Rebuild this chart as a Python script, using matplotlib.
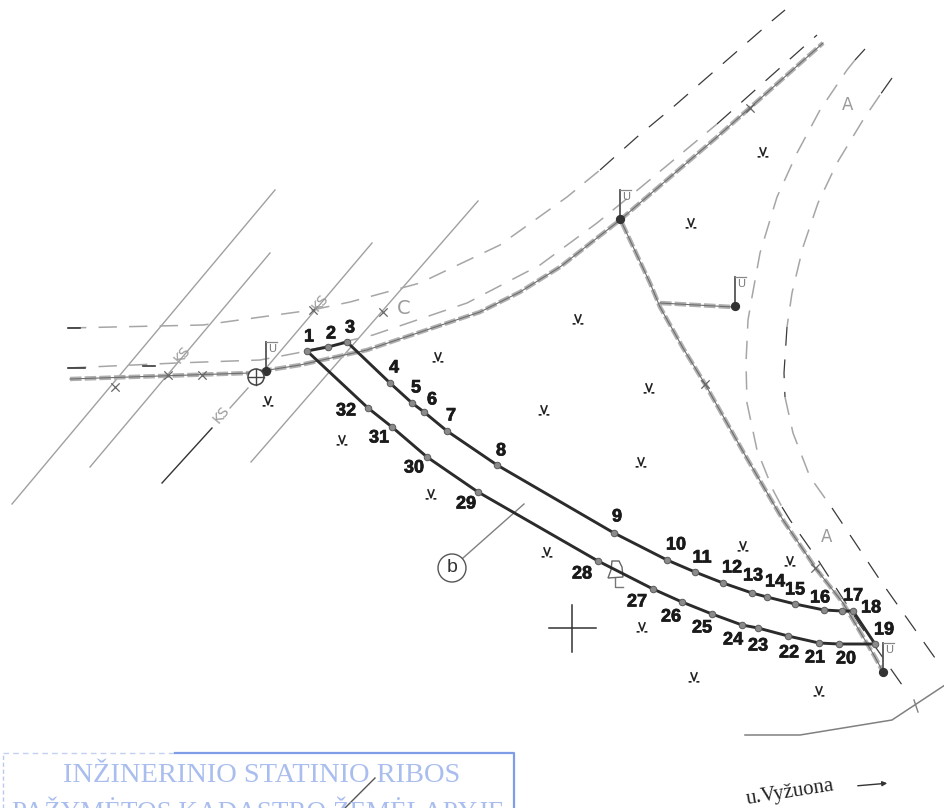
#coding=utf-8
import matplotlib
matplotlib.use('Agg')
from matplotlib import pyplot as plt
from matplotlib import patheffects as pe
from matplotlib.path import Path
from matplotlib.patches import Circle, Polygon

# parcel boundary points 1..32
pt_x = [307,328,347,390,412,424,447,497,614,667,695,723,752,767,795,824,842,853,875,
        839,819,788,758,742,712,682,653,598,478,427,392,368]
pt_y = [351,347,342,383,403,412,431,465,533,560,572,583,593,597,604,610,611,611,644,
        644,643,636,628,625,614,602,589,561,492,457,427,408]
lab_x = [309,331,350,394,416,432,451,501,617,676,702,732,753,775,795,820,853,871,884,
         846,815,789,758,733,702,671,637,582,466,414,379,346]
lab_y = [337,334,328,368,388,400,416,451,517,545,558,568,576,582,590,598,596,608,630,
         659,658,653,646,640,628,617,602,574,504,468,438,411]

# double gray utility lines
main_x = [70,250,300,367,480,520,560,620,717,823]
main_y = [379,373,365,350,312,292,267,220,137,43]
branch_x = [622,650,660,683,705,745,783,817,843,875,883]
branch_y = [223,283,307,348,384,455,520,570,603,657,672]
spur_x = [660,733]
spur_y = [303,307]

# dashed road edges, gray parts then dark parts
top_x = [68,203,312,350,420,500,567,600]
top_y = [328,325,310,302,283,245,197,170]
top2_x = [600,637,672,773,785]
top2_y = [170,137,108,20,10]
mid_x = [68,177,260,297,373,467,540,597,640,717]
mid_y = [368,363,360,353,335,303,265,223,188,124]
mid2_x = [717,817]
mid2_y = [124,35]
a1_x = [855,847,820,797,777,760,752,748,746,747,757,773,782]
a1_y = [60,70,110,153,197,253,297,320,363,403,450,490,507]
a1_dark_x = [782,790,818,860,907]
a1_dark_y = [507,520,560,625,692]
a2_x = [880,863,837,818,803,792,787]
a2_y = [95,120,163,203,247,293,327]
a2_low_x = [785,793,810,832]
a2_low_y = [397,433,477,508]
a2_dark = [([892,880],[78,95]),([787,784,785],[327,373,397]),([832,880,935],[508,580,658]),([865,855],[49,60])]

# gray parallel lines (KS)
ks_lines = [([12,275],[504,190]),([90,270],[467,253]),([230,248],[408,388]),
            ([267,372],[367,243]),([251,478],[462,201])]
ks_black = ([162,212],[483,428])
road_x = [745,800,892,945]
road_y = [735,735,720,685]

# marsh signs
marsh_x = [763,691,578,438,268,342,431,544,649,641,547,743,790,642,694,819]
marsh_y = [152,223,319,357,401,440,494,410,388,462,552,546,561,627,677,691]
# crossings and flags
cross_x = [750,705,815,202,313,115,168,383]
cross_y = [108,384,568,375,310,387,375,312]
flag_x = [620,735,266,883]
flag_y = [219,306,371,672]

fig = plt.figure(figsize=(9.45,8.08),dpi=100)
ax = fig.add_axes([0,0,1,1])
ax.set_xlim(0,945)
ax.set_ylim(808,0)
ax.axis('off')

dark = '#2b2b2b'
lgray = '#a6a6a6'
dgray = '#3a3a3a'

for xs,ys in ks_lines:
    ax.plot(xs,ys,color='#a0a0a0',lw=1.0)
ax.plot(ks_black[0],ks_black[1],color='#333333',lw=1.0)

for xs,ys in [(top_x,top_y),(mid_x,mid_y),(a1_x,a1_y),(a2_x,a2_y),(a2_low_x,a2_low_y)]:
    ax.plot(xs,ys,color=lgray,lw=1.1,dashes=(12,8))
for xs,ys in [(top2_x,top2_y),(mid2_x,mid2_y),(a1_dark_x,a1_dark_y)]+a2_dark:
    ax.plot(xs,ys,color=dgray,lw=0.9,dashes=(15,11))
ax.plot([68,85],[368,368],color=dgray,lw=1.2)
ax.plot([143,155],[366,366],color=dgray,lw=1.2)
ax.plot([68,80],[328,328],color=dgray,lw=1.2)

for xs,ys in [(main_x,main_y),(branch_x,branch_y),(spur_x,spur_y)]:
    ax.plot(xs,ys,color='#b0b0b0',lw=3.2,dashes=(2.6,0.7))
    ax.plot(xs,ys,color='#6e6e6e',lw=0.8)

ax.plot(road_x,road_y,color='#808080',lw=1.1)
ax.plot([914,918],[700,712],color='#808080',lw=1.0)

ax.scatter(cross_x,cross_y,marker='x',s=36,color='#666666',linewidths=0.9,zorder=3)

# flags
for fx,fy in zip(flag_x,flag_y):
    ax.plot([fx,fx],[fy,fy-29],color='#555555',lw=1.3,zorder=4)
    ax.plot([fx,fx+11],[fy-29,fy-29],color='#888888',lw=0.9,zorder=4)
    ax.text(fx+6,fy-22,'U',fontsize=8,family='Liberation Sans',color='#777777',ha='center',va='center',zorder=4)
    ax.scatter([fx],[fy],s=32,color='#333333',zorder=5)

# parcel
ax.plot(pt_x+pt_x[:1],pt_y+pt_y[:1],color=dark,lw=2.1,zorder=6)
ax.scatter(pt_x,pt_y,s=22,facecolor='#8a8a8a',edgecolor='#5a5a5a',linewidths=0.7,zorder=7)
for i,(lx,ly) in enumerate(zip(lab_x,lab_y)):
    ax.text(lx,ly,str(i+1),fontsize=13,fontweight='bold',family='Liberation Sans',
            color='#1a1a1a',ha='center',va='center',zorder=8,
            path_effects=[pe.withStroke(linewidth=0.5,foreground='#1a1a1a')])

# marsh marker: v with two feet
mv = Path([(-.6,.9),(0,-.7),(.6,.9),(-1,-.9),(-.45,-.9),(.45,-.9),(1,-.9)],
          [Path.MOVETO,Path.LINETO,Path.LINETO,Path.MOVETO,Path.LINETO,Path.MOVETO,Path.LINETO])
ax.scatter(marsh_x,marsh_y,marker=mv,s=60,facecolor='none',edgecolor='#222222',linewidths=1.2,zorder=4)

# well symbol
ax.add_patch(Circle((256,377),8,fc='white',ec='#444444',lw=1.1,zorder=5))
ax.plot([248,264],[377,377],color='#444444',lw=1.0,zorder=6)
ax.plot([256,256],[369,385],color='#444444',lw=1.0,zorder=6)

# tree
ax.add_patch(Polygon([(612,561),(619,561),(622,567),(623,577),(608,578),(611,570)],closed=True,
                     fc='white',ec='#666666',lw=1.0,zorder=5))
ax.plot([615,615,623],[578,587,587],color='#777777',lw=1.0,zorder=5)

# big cross
ax.plot([549,596],[628,628],color='#333333',lw=1.1)
ax.plot([572,572],[605,652],color='#333333',lw=1.1)

# b label
ax.add_patch(Circle((452,568),14,fc='white',ec='#555555',lw=1.0,zorder=5))
ax.plot([463,524],[558,504],color='#808080',lw=1.0)
ax.text(452,568,'b',fontsize=14,family='Liberation Sans',color='#333333',ha='center',va='center',zorder=6)

# gray labels
for t,x,y,r,fs in [('KS',221,415,50,10),('KS',182,355,50,10),('KS',320,303,50,10),
                   ('C',404,309,0,14),('A',848,105,0,12),('A',827,537,0,12)]:
    ax.text(x,y,t,fontsize=fs,family='DejaVu Sans',color='#9a9a9a',ha='center',va='center',rotation=r)

# stamp
ax.plot([3,3],[808,753],color='#b8c8f0',lw=1.0,dashes=(3,2))
ax.plot([3,175],[753,753],color='#c4d0f0',lw=1.0,dashes=(4,3))
ax.plot([175,514,514],[753,753,808],color='#7f9ce6',lw=1.6)
ax.text(262,776,'INŽINERINIO STATINIO RIBOS',fontsize=20.5,family='Liberation Serif',color='#a9bdee',ha='center',va='center')
ax.text(258,814,'PAŽYMĖTOS KADASTRO ŽEMĖLAPYJE',fontsize=19.5,family='Liberation Serif',color='#a9bdee',ha='center',va='center',clip_on=True)
ax.plot([345,375],[808,778],color='#555555',lw=1.0)

# street
ax.text(790,793,'u.Vyžuona',fontsize=15,family='Liberation Serif',color='#222222',ha='center',va='center',rotation=9)
ax.annotate('',xy=(890,783),xytext=(855,786),arrowprops=dict(arrowstyle='-|>',color='#333333',lw=1.0,mutation_scale=7))

fig.savefig('out.png',dpi=100)
